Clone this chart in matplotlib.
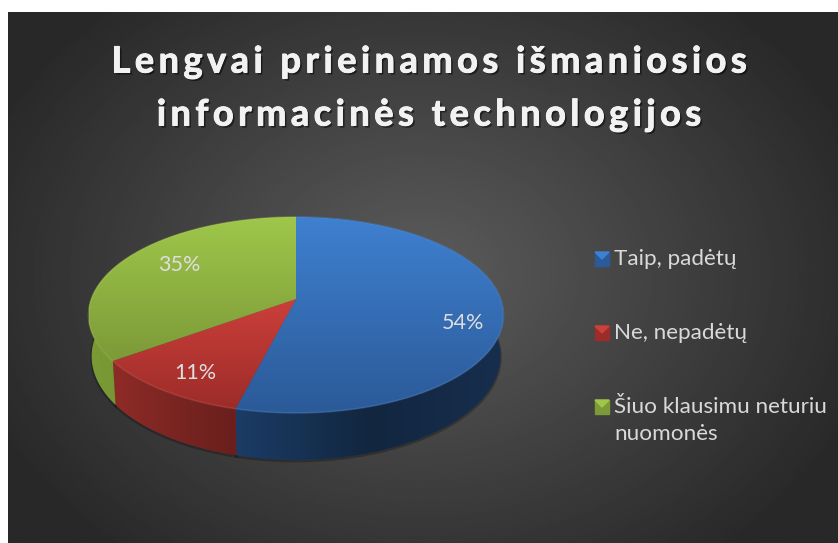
#!/usr/bin/env python3
"""Tilted 3D-style pie on a dark radial background."""
import numpy as np
import matplotlib
matplotlib.use("Agg")
import matplotlib.pyplot as plt
import matplotlib.patheffects as pe
from matplotlib.colors import LinearSegmentedColormap
from matplotlib.patches import Polygon

plt.rcParams["font.family"] = ["Lato", "DejaVu Sans"]

title_lines = ["Lengvai prieinamos išmaniosios", "informacinės technologijos"]
labels = ["Taip, padėtų", "Ne, nepadėtų", "Šiuo klausimu neturiu\nnuomonės"]
values = [54, 11, 35]
value_text = ["54%", "11%", "35%"]

top_colors = [("#3f80d0", "#2b5a98"), ("#cc3f3a", "#9c2c29"), ("#9fc74a", "#7c9a38")]
side_colors = [("#1b3c66", "#12263f", "#172e4e"), ("#8f2b27", "#7a2522", "#6a1f1c"), ("#7a9a36", "#70902f", "#66822c")]
rim_colors = ["#5b97e0", "#e0605a", "#b4d860"]

# pie geometry, in pixels
CX, CY = 296, 299
A, B, K = 204.7, 95.4, 0.163


def project(ang, bottom=False):
    u, v = np.sin(ang), np.cos(ang)
    w = 1 + K * v
    if bottom:
        return CX + 0.985 * A * u / w, CY + 40.4 - 100.9 * v / w
    return CX + A * u / w, CY - B * v / w


def gradient_fill(ax, xy, c_list, vertical=True, z=2):
    poly = Polygon(xy, closed=True, fc="none", ec="none", transform=ax.transData)
    ax.add_patch(poly)
    cmap = LinearSegmentedColormap.from_list("g", c_list)
    g = np.linspace(0, 1, 128)
    g = g[:, None] if vertical else g[None, :]
    x0, y0 = xy.min(axis=0)
    x1, y1 = xy.max(axis=0)
    im = ax.imshow(g, cmap=cmap, extent=(x0, x1, y1, y0), aspect="auto", zorder=z,
                   origin="upper", interpolation="bilinear")
    im.set_clip_path(poly)


fig = plt.figure(figsize=(8.38, 5.43), dpi=100, facecolor="white")
ax = fig.add_axes([0, 0, 1, 1])
ax.axis("off")

# background
xx, yy = np.meshgrid(np.linspace(8, 838, 415), np.linspace(12, 543, 265))
r = np.sqrt(((xx - 420) / 520) ** 2 + ((yy - 275) / 400) ** 2)
shade = np.clip(0.36 - 0.21 * r / 0.95, 0.16, 1)
ax.imshow(shade, cmap="gray", vmin=0, vmax=1, extent=(8, 838, 543, 12), aspect="auto", zorder=0)
ax.set_xlim(0, 838)
ax.set_ylim(543, 0)

# slices
edges = np.cumsum([0] + values) / sum(values) * 2 * np.pi
for i in range(len(values)):
    t = np.linspace(edges[i], edges[i + 1], 150)
    tx, ty = project(t)
    bx, by = project(t, bottom=True)
    ax.plot(bx, by + 1, color="black", lw=2, alpha=0.25, zorder=1)
    side = np.column_stack([np.r_[tx, bx[::-1]], np.r_[ty, by[::-1]]])
    gradient_fill(ax, side, list(side_colors[i]), vertical=False, z=2)

for i in range(len(values)):
    t = np.linspace(edges[i], edges[i + 1], 150)
    tx, ty = project(t)
    top = np.column_stack([np.r_[CX, tx], np.r_[CY, ty]])
    gradient_fill(ax, top, list(top_colors[i]), vertical=True, z=3)
    ax.plot(tx, ty, color=rim_colors[i], lw=1.2, alpha=0.3, zorder=4, solid_capstyle="butt")

# value labels
label_xy = [(463, 323), (195, 373), (179, 265)]
for (x, y), s in zip(label_xy, value_text):
    ax.text(x, y, s, color="#dedede", fontsize=15.5, ha="center", va="center", zorder=5)

# title, tracked out
for s, y in zip(title_lines, (62, 115)):
    ax.text(429, y, "\u200a\u200a".join(s), color="#f2f2f2", fontsize=26, fontweight="bold",
            ha="center", va="center", zorder=5,
            path_effects=[pe.withSimplePatchShadow(offset=(1.5, -1.5), shadow_rgbFace="black", alpha=0.5),
                          pe.withStroke(linewidth=0.7, foreground="#f2f2f2")])

# legend
legend_y = [259, 333, 407]
for lab, y, c in zip(labels, legend_y, top_colors):
    ax.fill([595, 609, 609, 595], [y - 7, y - 7, y + 7, y + 7], color=c[1], zorder=5)
    ax.fill([595, 609, 602], [y - 7, y - 7, y], color=c[0], zorder=6)
    ax.text(614, y - 10, lab, color="#d9d9d9", fontsize=16.2, ha="left", va="top",
            linespacing=1.45, zorder=5)

fig.savefig("out.png", dpi=100, facecolor="white")
